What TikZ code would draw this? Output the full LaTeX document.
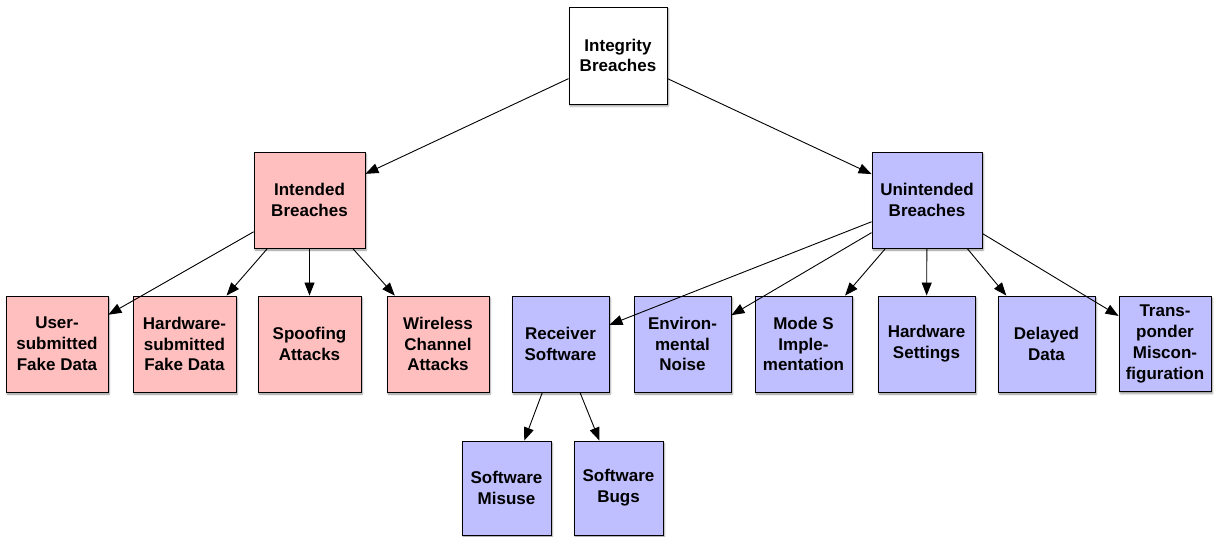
\documentclass[tikz,border=0pt]{standalone}
\usepackage{fontspec}
\setmainfont{Liberation Sans}
\usetikzlibrary{arrows.meta,shadows.blur}
\definecolor{pinkfill}{RGB}{255,191,191}
\definecolor{bluefill}{RGB}{191,191,255}
\tikzset{
  box/.style={draw=black, line width=0.9pt, inner sep=0pt, align=center,
    font=\fontsize{17}{20.8}\selectfont\bfseries,
    blur shadow={shadow xshift=1.2pt, shadow yshift=-2pt, shadow blur radius=1.8pt, shadow opacity=45}},
  rootbox/.style={box, fill=white},
  redbox/.style={box, fill=pinkfill},
  bluebox/.style={box, fill=bluefill},
  arr/.style={line width=0.9pt, -{Triangle[length=13pt,width=10pt]}}
}
\begin{document}
\begin{tikzpicture}[x=1pt,y=-1pt]
\useasboundingbox (0,0) rectangle (1215,537);
% root
\node[rootbox, minimum width=98pt, minimum height=97pt] (top) at (618,55.5) {Integrity\\Breaches};
% second level
\node[redbox, minimum width=111pt, minimum height=96pt] (intd) at (309.5,200) {Intended\\Breaches};
\node[bluebox, minimum width=110pt, minimum height=96pt] (unin) at (927,200) {Unintended\\Breaches};
% intended breaches
\node[redbox, minimum width=102pt, minimum height=96pt] (user) at (57,344) {User-\\submitted\\Fake Data};
\node[redbox, minimum width=103pt, minimum height=96pt] (hwsub) at (184.5,344) {Hardware-\\submitted\\Fake Data};
\node[redbox, minimum width=103pt, minimum height=96pt] (spoof) at (309.5,344) {Spoofing\\Attacks};
\node[redbox, minimum width=102pt, minimum height=96pt] (wire) at (438,344) {Wireless\\Channel\\Attacks};
% unintended breaches
\node[bluebox, minimum width=97pt, minimum height=96pt] (recv) at (560.5,344) {Receiver\\Software};
\node[bluebox, minimum width=97pt, minimum height=96pt] (env) at (682.5,344) {Environ-\\mental\\Noise};
\node[bluebox, minimum width=97pt, minimum height=96pt] (mode) at (803.5,344) {Mode S\\Imple-\\mentation};
\node[bluebox, minimum width=97pt, minimum height=96pt] (hwset) at (926.5,344) {Hardware\\Settings};
\node[bluebox, minimum width=97pt, minimum height=96pt] (delay) at (1046.5,344) {Delayed\\Data};
\node[bluebox, minimum width=92pt, minimum height=95pt] (trans) at (1165,344) {Trans-\\ponder\\Miscon-\\figuration};
% receiver software
\node[bluebox, minimum width=89pt, minimum height=94pt] (misuse) at (506.5,488) {Software\\Misuse};
\node[bluebox, minimum width=89pt, minimum height=94pt] (bugs) at (618.5,488) {Software\\Bugs};
% connectors
\draw[arr] (top) -- (intd);
\draw[arr] (top) -- (unin);
\foreach \c in {user,hwsub,spoof,wire} \draw[arr] (intd) -- (\c);
\foreach \c in {recv,env,mode,hwset,delay,trans} \draw[arr] (unin) -- (\c);
\draw[arr] (recv) -- (misuse);
\draw[arr] (recv) -- (bugs);
\end{tikzpicture}
\end{document}
